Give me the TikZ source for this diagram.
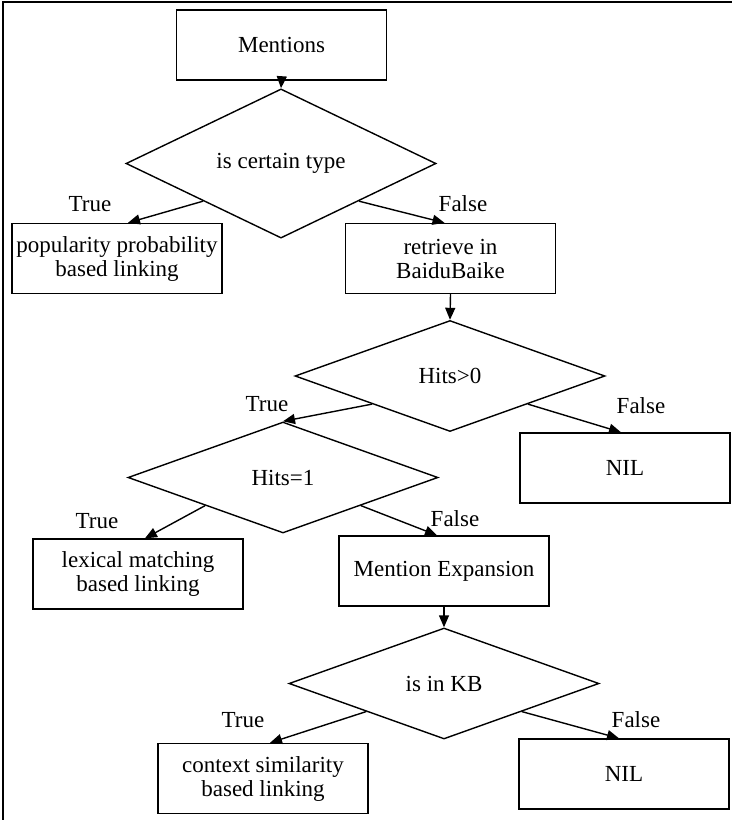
\documentclass[tikz,border=0pt]{standalone}
\usepackage{fontspec}
\setmainfont{Liberation Serif}
\usetikzlibrary{shapes.geometric,arrows.meta}

\begin{document}
\begin{tikzpicture}[x=1bp,y=-1bp,
	font=\fontsize{23bp}{24bp}\selectfont,
	box/.style={draw,line width=1.4bp,minimum width=210bp,minimum height=70bp,inner sep=0pt,align=center},
	test/.style={draw,diamond,line width=1.4bp,minimum width=310bp,minimum height=111bp,inner sep=0pt},
	flow/.style={line width=1.4bp,-{Triangle[length=12bp,width=10bp]}},
	lbl/.style={inner sep=0pt}]
	\useasboundingbox (0,0) rectangle (732,820);
	\draw [line width=1.6bp] (3,820) -- (3,2) -- (732,2);
	% boxes and tests
	\node [box] (mentions) at (281.5,45) {Mentions};
	\node [test] (certain) at (281,163.5) {is certain type};
	\node [box] (popular) at (117,258.5) {popularity probability\\based linking};
	\node [box] (retrieve) at (450.5,258.5) {retrieve in\\BaiduBaike};
	\node [test] (hitsany) at (450,376) {Hits>0};
	\node [box] (nilone) at (625,468) {NIL};
	\node [test] (hitsone) at (283,477.5) {Hits=1};
	\node [box] (lexical) at (138,574) {lexical matching\\based linking};
	\node [box] (expand) at (444,571) {Mention Expansion};
	\node [test] (inkb) at (444,683.5) {is in KB};
	\node [box] (context) at (263,778.5) {context similarity\\based linking};
	\node [box] (niltwo) at (624,774) {NIL};
	% branch labels
	\node [lbl] (t1) at (90,204) {True};
	\node [lbl] (f1) at (463,204) {False};
	\node [lbl] (t2) at (267,404) {True};
	\node [lbl] (f2) at (641,406) {False};
	\node [lbl] (t3) at (97,521) {True};
	\node [lbl] (f3) at (455,519) {False};
	\node [lbl] (t4) at (243,720) {True};
	\node [lbl] (f4) at (636,720) {False};
	% arrows
	\draw [flow] (mentions.south) -- (certain.north);
	\draw [flow] (certain.south west) -- ([xshift=11bp]popular.north);
	\draw [flow] (certain.south east) -- ([xshift=-6bp]retrieve.north);
	\draw [flow] (retrieve.south) -- (hitsany.north);
	\draw [flow] (hitsany.south west) -- (hitsone.north);
	\draw [flow] (hitsany.south east) -- ([xshift=-4bp]nilone.north);
	\draw [flow] (hitsone.south west) -- ([xshift=7bp]lexical.north);
	\draw [flow] (hitsone.south east) -- ([xshift=-7bp]expand.north);
	\draw [flow] (expand.south) -- (inkb.north);
	\draw [flow] (inkb.south west) -- ([xshift=7bp]context.north);
	\draw [flow] (inkb.south east) -- ([xshift=-5bp]niltwo.north);
\end{tikzpicture}
\end{document}
